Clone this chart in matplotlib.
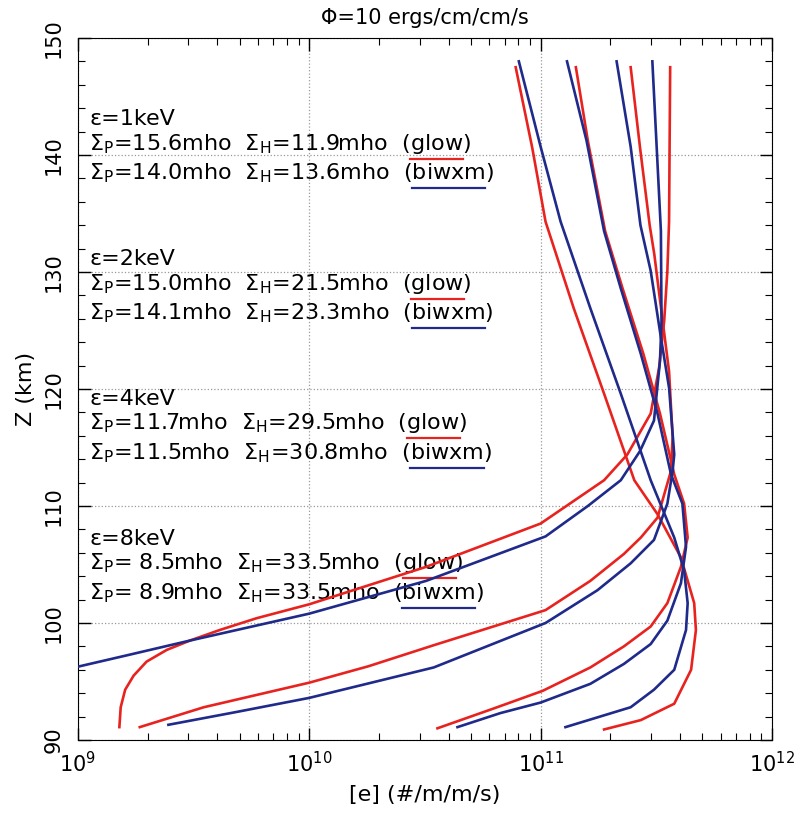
import matplotlib

matplotlib.use("Agg")
import matplotlib.pyplot as plt
from matplotlib.ticker import LogLocator, MultipleLocator, NullFormatter

plt.rcParams["font.family"] = ["DejaVu Sans"]
plt.rcParams["mathtext.fontset"] = "dejavusans"

RED = "#e8231f"
BLUE = "#1f2a8a"

# --- profiles: altitude (km) vs ionisation rate (#/m/m/s) ---

z_1kev_glow = [91.1, 92.8, 94.3, 95.5, 96.7, 97.7, 98.5, 99.4, 100.4, 101.6, 104.8, 108.5, 112.2, 114.4,
               117.9, 121.8, 125.8, 130.1, 134.3, 147.5]
q_1kev_glow = [1.51e9, 1.53e9, 1.6e9, 1.74e9, 1.98e9, 2.42e9, 3.05e9, 4.1e9, 5.9e9, 1.0e10, 3.2e10, 1.0e11,
               1.88e11, 2.37e11, 2.99e11, 3.25e11, 3.42e11, 3.53e11, 3.59e11, 3.63e11]
z_1kev_biwxm = [96.1, 97.3, 98.5, 100.8, 103.6, 107.4, 110.0, 112.2, 114.7, 117.3, 122.4, 125.8, 133.5, 148.0]
q_1kev_biwxm = [9.2e8, 1.68e9, 3.05e9, 1.0e10, 3.2e10, 1.05e11, 1.6e11, 2.22e11, 2.69e11, 3.09e11, 3.28e11,
                3.33e11, 3.31e11, 3.04e11]

z_2kev_glow = [91.1, 92.8, 94.9, 96.3, 98.1, 101.1, 103.6, 105.9, 107.3, 109.0, 113.0, 115.9, 121.5, 127.2,
               131.5, 134.0, 140.6, 147.5]
q_2kev_glow = [1.85e9, 3.5e9, 1.0e10, 1.8e10, 3.45e10, 1.05e11, 1.64e11, 2.29e11, 2.71e11, 3.2e11, 3.66e11,
               3.72e11, 3.59e11, 3.3e11, 3.1e11, 2.96e11, 2.69e11, 2.45e11]
z_2kev_biwxm = [91.3, 92.4, 93.6, 96.2, 100.0, 102.8, 105.1, 107.1, 110.2, 113.0, 114.4, 120.1, 124.4, 130.1,
                134.0, 140.7, 148.0]
q_2kev_biwxm = [2.46e9, 4.86e9, 1.0e10, 3.45e10, 1.05e11, 1.76e11, 2.45e11, 3.09e11, 3.53e11, 3.72e11,
                3.78e11, 3.59e11, 3.31e11, 2.99e11, 2.7e11, 2.45e11, 2.13e11]

z_4kev_glow = [91.0, 92.7, 94.2, 96.2, 98.0, 99.7, 101.7, 104.8, 107.3, 110.2, 112.7, 117.9, 123.0, 128.6,
               133.5, 141.2, 147.5]
q_4kev_glow = [3.58e10, 6.28e10, 1.02e11, 1.64e11, 2.29e11, 2.99e11, 3.53e11, 4.04e11, 4.32e11, 4.17e11,
               3.78e11, 3.28e11, 2.78e11, 2.26e11, 1.9e11, 1.6e11, 1.42e11]
z_4kev_biwxm = [91.1, 92.3, 93.2, 94.8, 96.5, 98.2, 100.2, 103.4, 106.5, 110.2, 112.7, 117.9, 123.0, 128.6,
                133.5, 141.2, 148.0]
q_4kev_biwxm = [4.37e10, 6.7e10, 1.0e11, 1.64e11, 2.29e11, 2.99e11, 3.53e11, 4.04e11, 4.25e11, 4.1e11,
                3.66e11, 3.2e11, 2.71e11, 2.22e11, 1.88e11, 1.58e11, 1.3e11]

z_8kev_glow = [90.9, 91.7, 93.1, 96.0, 99.4, 101.7, 105.6, 109.3, 112.2, 119.6, 126.9, 134.3, 140.6, 147.5]
q_8kev_glow = [1.88e11, 2.71e11, 3.78e11, 4.47e11, 4.69e11, 4.61e11, 4.04e11, 3.2e11, 2.54e11, 1.88e11,
               1.39e11, 1.05e11, 9.2e10, 7.8e10]
z_8kev_biwxm = [91.1, 92.8, 94.3, 96.0, 99.4, 101.7, 104.5, 107.3, 112.2, 119.6, 126.9, 134.3, 140.7, 148.0]
q_8kev_biwxm = [1.28e11, 2.45e11, 3.09e11, 3.78e11, 4.25e11, 4.32e11, 4.17e11, 3.78e11, 2.99e11, 2.22e11,
                1.64e11, 1.22e11, 1.0e11, 8.05e10]

energies = ["1keV", "2keV", "4keV", "8keV"]
sigma_p_glow = ["15.6", "15.0", "11.7", " 8.5"]
sigma_h_glow = ["11.9", "21.5", "29.5", "33.5"]
sigma_p_biwxm = ["14.0", "14.1", "11.5", " 8.9"]
sigma_h_biwxm = ["13.6", "23.3", "30.8", "33.5"]

FS = 16


def underline(ax, x, y, head, word, color):
    """Draw a coloured bar under `word`, which follows head + '(' in the label."""
    r = ax.figure.canvas.get_renderer()
    a = ax.text(x, y, head + "(", transform=ax.transAxes, fontsize=FS, va="baseline")
    b = ax.text(x, y, head + "(" + word, transform=ax.transAxes, fontsize=FS, va="baseline")
    x0 = a.get_window_extent(r).x1
    x1 = b.get_window_extent(r).x1
    a.remove()
    b.remove()
    yd = ax.transAxes.transform((x, y))[1] - 9
    inv = ax.transAxes.inverted()
    (ax0, ay), (ax1, _) = inv.transform([(x0, yd), (x1, yd)])
    ax.plot([ax0, ax1], [ay, ay], color=color, lw=1.6, transform=ax.transAxes, clip_on=False, zorder=1)


fig = plt.figure(figsize=(7.98, 8.13), dpi=100)
ax = fig.add_axes([0.0977, 0.0898, 0.8697, 0.8635])

curves = [
    (q_1kev_glow, z_1kev_glow, q_1kev_biwxm, z_1kev_biwxm),
    (q_2kev_glow, z_2kev_glow, q_2kev_biwxm, z_2kev_biwxm),
    (q_4kev_glow, z_4kev_glow, q_4kev_biwxm, z_4kev_biwxm),
    (q_8kev_glow, z_8kev_glow, q_8kev_biwxm, z_8kev_biwxm),
]
for qg, zg, qb, zb in curves:
    ax.plot(qg, zg, color=RED, lw=1.9, zorder=3, solid_joinstyle="round")
for qg, zg, qb, zb in curves:
    ax.plot(qb, zb, color=BLUE, lw=1.9, zorder=4, solid_joinstyle="round")

ax.set_xscale("log")
ax.set_xlim(1e9, 1e12)
ax.set_ylim(90, 150)
ax.yaxis.set_major_locator(MultipleLocator(10))
ax.yaxis.set_minor_locator(MultipleLocator(2))
ax.xaxis.set_major_locator(LogLocator(base=10, numticks=10))
ax.xaxis.set_minor_locator(LogLocator(base=10, subs=range(2, 10), numticks=10))
ax.xaxis.set_minor_formatter(NullFormatter())
ax.tick_params(which="both", direction="in", top=True, right=True, labelsize=FS - 1)
ax.tick_params(which="major", length=9, width=1)
ax.tick_params(which="minor", length=5, width=0.8)
ax.tick_params(axis="x", pad=8)
ax.tick_params(axis="y", pad=10)
for lab in ax.get_yticklabels():
    lab.set_rotation(90)
    lab.set_va("center")
ax.grid(True, which="major", linestyle=":", color="0.6", linewidth=0.9)

ax.set_xlabel("[e] (#/m/m/s)", fontsize=FS, labelpad=6)
ax.set_ylabel("Z (km)", fontsize=FS, labelpad=6)
ax.set_title("\u03a6=10 ergs/cm/cm/s", fontsize=FS - 1, pad=10)

# annotation blocks, one per beam energy
x_txt = 0.016
for i, en in enumerate(energies):
    y0 = 0.876 - i * 0.1994
    ax.text(x_txt, y0, "\u03b5=" + en, transform=ax.transAxes, fontsize=FS, va="baseline", zorder=2)
    head_g = (r"$\Sigma_\mathrm{P}$=" + sigma_p_glow[i] + r"mho  $\Sigma_\mathrm{H}$="
              + sigma_h_glow[i] + "mho  ")
    head_b = (r"$\Sigma_\mathrm{P}$=" + sigma_p_biwxm[i] + r"mho  $\Sigma_\mathrm{H}$="
              + sigma_h_biwxm[i] + "mho  ")
    y1 = y0 - 0.0349
    y2 = y0 - 0.077
    ax.text(x_txt, y1, head_g + "(glow)", transform=ax.transAxes, fontsize=FS, va="baseline", zorder=2)
    ax.text(x_txt, y2, head_b + "(biwxm)", transform=ax.transAxes, fontsize=FS, va="baseline", zorder=2)
    underline(ax, x_txt, y1, head_g, "glow", RED)
    underline(ax, x_txt, y2, head_b, "biwxm", BLUE)

fig.savefig("out.png", dpi=100)
